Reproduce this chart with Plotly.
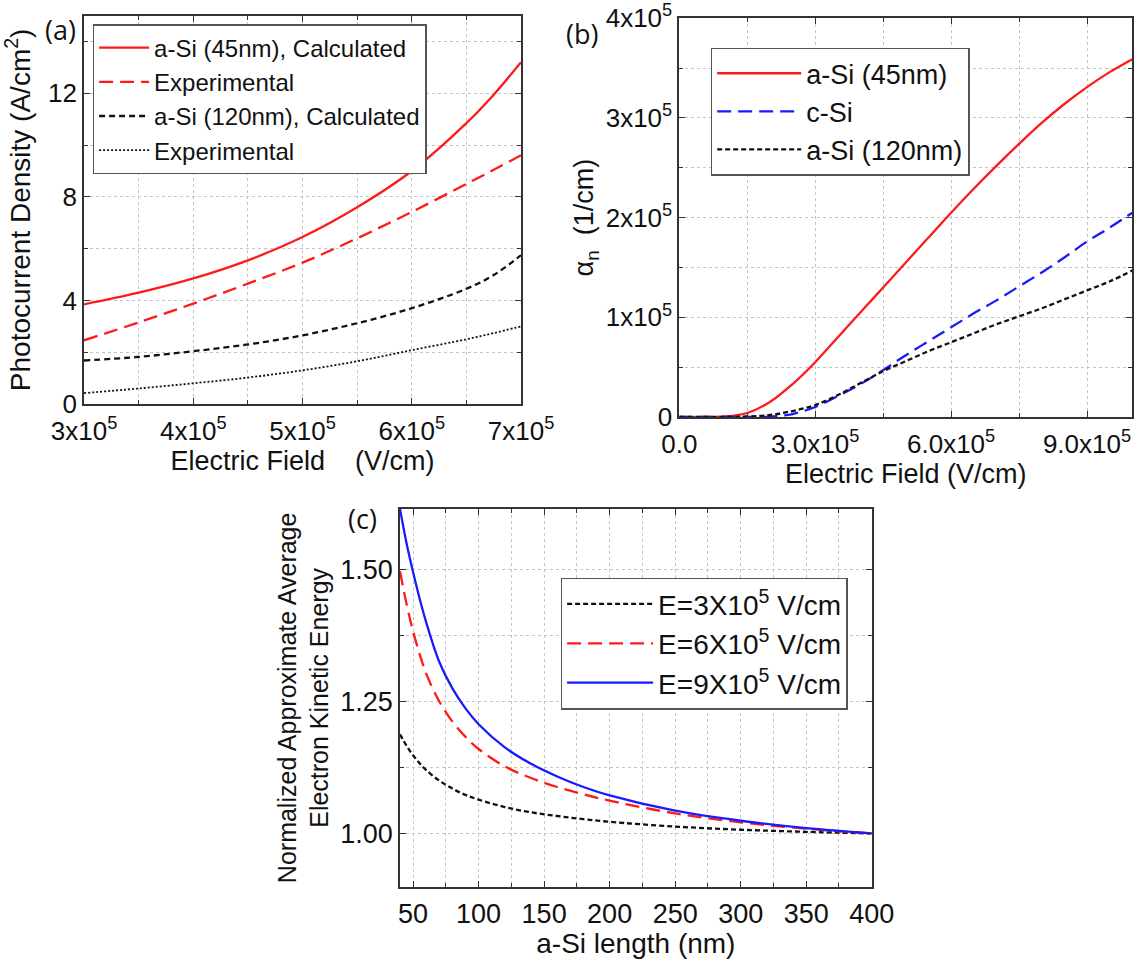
import plotly.graph_objects as go

W, H = 1139, 959

# ---------------- data (a) ----------------
a_field = [3.0e5, 3.5e5, 4.0e5, 4.5e5, 5.0e5, 5.5e5, 6.0e5, 6.5e5, 6.75e5, 7.0e5]
a_45_calc = [3.85, 4.30, 4.85, 5.55, 6.45, 7.60, 9.00, 10.85, 11.95, 13.20]
a_45_exp = [2.46, 3.15, 3.88, 4.65, 5.46, 6.40, 7.42, 8.50, 9.05, 9.61]
a_120_calc = [1.68, 1.82, 2.04, 2.30, 2.65, 3.12, 3.70, 4.45, 4.98, 5.75]
a_120_exp = [0.42, 0.60, 0.80, 1.02, 1.30, 1.65, 2.08, 2.50, 2.74, 3.00]
a_xticks = [3e5, 4e5, 5e5, 6e5, 7e5]
a_xticktext = ["3x10<sup>5</sup>", "4x10<sup>5</sup>", "5x10<sup>5</sup>", "6x10<sup>5</sup>", "7x10<sup>5</sup>"]
a_yticks = [0, 4, 8, 12]

# ---------------- data (b) ----------------
b_field = [0, 0.5e5, 1.0e5, 1.5e5, 2.0e5, 2.5e5, 3.0e5, 3.5e5, 4.0e5, 4.5e5, 5.0e5,
           5.5e5, 6.0e5, 6.5e5, 7.0e5, 7.5e5, 8.0e5, 8.5e5, 9.0e5, 9.5e5, 10.0e5]
b_asi45 = [0, 0, 0.005e5, 0.04e5, 0.15e5, 0.33e5, 0.55e5, 0.80e5, 1.05e5, 1.30e5, 1.55e5,
           1.80e5, 2.05e5, 2.29e5, 2.52e5, 2.74e5, 2.95e5, 3.14e5, 3.31e5, 3.46e5, 3.59e5]
b_csi = [0, 0, 0, 0, 0.003e5, 0.03e5, 0.10e5, 0.21e5, 0.33e5, 0.47e5, 0.62e5,
         0.76e5, 0.90e5, 1.04e5, 1.17e5, 1.31e5, 1.45e5, 1.60e5, 1.76e5, 1.90e5, 2.05e5]
b_asi120 = [0, 0, 0, 0.005e5, 0.02e5, 0.06e5, 0.12e5, 0.22e5, 0.34e5, 0.46e5, 0.56e5,
            0.66e5, 0.75e5, 0.84e5, 0.93e5, 1.01e5, 1.09e5, 1.18e5, 1.27e5, 1.36e5, 1.47e5]
b_xticks = [0, 3e5, 6e5, 9e5]
b_xticktext = ["0.0", "3.0x10<sup>5</sup>", "6.0x10<sup>5</sup>", "9.0x10<sup>5</sup>"]
b_yticks = [0, 1e5, 2e5, 3e5, 4e5]
b_yticktext = ["0", "1x10<sup>5</sup>", "2x10<sup>5</sup>", "3x10<sup>5</sup>", "4x10<sup>5</sup>"]

# ---------------- data (c) ----------------
c_len = [40, 45, 50, 55, 60, 70, 80, 90, 100, 120, 140, 160, 180, 200, 250, 300, 350, 400]
c_e3 = [1.188, 1.166, 1.148, 1.133, 1.120, 1.100, 1.085, 1.073, 1.064, 1.050, 1.040, 1.033,
        1.027, 1.022, 1.013, 1.007, 1.003, 1.000]
c_e6 = [1.497, 1.435, 1.383, 1.340, 1.303, 1.250, 1.212, 1.183, 1.160, 1.127, 1.105, 1.088,
        1.074, 1.062, 1.038, 1.021, 1.009, 1.000]
c_e9 = [1.615, 1.550, 1.495, 1.445, 1.400, 1.325, 1.275, 1.237, 1.207, 1.163, 1.132, 1.108,
        1.088, 1.072, 1.043, 1.024, 1.010, 1.000]
c_xticks = [50, 100, 150, 200, 250, 300, 350, 400]
c_yticks = [1.00, 1.25, 1.50]

RED = "#ff1a1a"
BLUE = "#1a1aff"
BLACK = "#111111"
FONT = "Liberation Sans, Arial, sans-serif"

fig = go.Figure()

# (a)
fig.add_trace(go.Scatter(x=a_field, y=a_45_calc, mode="lines", line=dict(color=RED, width=2.3, shape="spline"),
                         name="a-Si (45nm), Calculated", xaxis="x", yaxis="y", legend="legend", legendgroup="a1"))
fig.add_trace(go.Scatter(x=a_field, y=a_45_exp, mode="lines", line=dict(color=RED, width=2.3, dash="14px,7px", shape="spline"),
                         name="Experimental", xaxis="x", yaxis="y", legend="legend", legendgroup="a2"))
fig.add_trace(go.Scatter(x=a_field, y=a_120_calc, mode="lines", line=dict(color=BLACK, width=2.3, dash="6px,4px", shape="spline"),
                         name="a-Si (120nm), Calculated", xaxis="x", yaxis="y", legend="legend", legendgroup="a3"))
fig.add_trace(go.Scatter(x=a_field, y=a_120_exp, mode="lines", line=dict(color=BLACK, width=1.8, dash="2px,2px", shape="spline"),
                         name="Experimental", xaxis="x", yaxis="y", legend="legend", legendgroup="a4"))

# (b)
fig.add_trace(go.Scatter(x=b_field, y=b_asi45, mode="lines", line=dict(color=RED, width=2.3, shape="spline"),
                         name="a-Si (45nm)", xaxis="x2", yaxis="y2", legend="legend2", legendgroup="b1"))
fig.add_trace(go.Scatter(x=b_field, y=b_csi, mode="lines", line=dict(color=BLUE, width=2.3, dash="14px,7px", shape="spline"),
                         name="c-Si", xaxis="x2", yaxis="y2", legend="legend2", legendgroup="b2"))
fig.add_trace(go.Scatter(x=b_field, y=b_asi120, mode="lines", line=dict(color=BLACK, width=2.3, dash="5px,3px", shape="spline"),
                         name="a-Si (120nm)", xaxis="x2", yaxis="y2", legend="legend2", legendgroup="b3"))

# (c)
fig.add_trace(go.Scatter(x=c_len, y=c_e3, mode="lines", line=dict(color=BLACK, width=2.3, dash="5px,3px", shape="spline"),
                         name="E=3X10<sup>5</sup> V/cm", xaxis="x3", yaxis="y3", legend="legend3", legendgroup="c1"))
fig.add_trace(go.Scatter(x=c_len, y=c_e6, mode="lines", line=dict(color=RED, width=2.3, dash="14px,7px", shape="spline"),
                         name="E=6X10<sup>5</sup> V/cm", xaxis="x3", yaxis="y3", legend="legend3", legendgroup="c2"))
fig.add_trace(go.Scatter(x=c_len, y=c_e9, mode="lines", line=dict(color=BLUE, width=2.3, shape="spline"),
                         name="E=9X10<sup>5</sup> V/cm", xaxis="x3", yaxis="y3", legend="legend3", legendgroup="c3"))


def px_x(p):
    return p / W


def px_y(p):
    return 1 - p / H


def axis(tsize, **kw):
    d = dict(showline=True, linecolor="#333333", linewidth=1.8, mirror="ticks", ticks="inside",
             ticklen=6, tickwidth=1.3, tickcolor="#333333", showgrid=True, gridcolor="#c4c4c4",
             griddash="dot", gridwidth=1, zeroline=False, automargin=False,
             tickfont=dict(size=tsize, color="#111"))
    d.update(kw)
    return d


MINOR = dict(ticks="inside", ticklen=4, tickwidth=1.2, tickcolor="#333333", showgrid=True,
             gridcolor="#c4c4c4", griddash="dot", gridwidth=1)

fig.update_layout(
    width=W, height=H, margin=dict(l=0, r=0, t=0, b=0, autoexpand=False),
    paper_bgcolor="white", plot_bgcolor="white",
    font=dict(family=FONT, size=24, color="#111"),
    xaxis=axis(26, domain=[px_x(84), px_x(521)], range=[3e5, 7e5], anchor="y",
               tickmode="array", tickvals=a_xticks, ticktext=a_xticktext, ticklabelstandoff=3,
               minor=dict(MINOR, tickvals=[3.5e5, 4.5e5, 5.5e5, 6.5e5]),
               title=dict(text="Electric Field\u00a0\u00a0\u00a0\u00a0(V/cm)", standoff=6,
                          font=dict(size=27, color="#111"))),
    yaxis=axis(26, domain=[px_y(404), px_y(15.7)], range=[0, 15], anchor="x",
               tickmode="array", tickvals=a_yticks,
               minor=dict(MINOR, tickvals=[2, 6, 10, 14]),
               title=dict(text="Photocurrent Density (A/cm<sup>2</sup>)", standoff=10,
                          font=dict(size=28, color="#111"))),
    xaxis2=axis(26, domain=[px_x(679.3), px_x(1132.3)], range=[0, 1e6], anchor="y2",
                tickmode="array", tickvals=b_xticks, ticktext=b_xticktext, ticklabelstandoff=3,
                minor=dict(MINOR, tickvals=[1.5e5, 4.5e5, 7.5e5]),
                title=dict(text="Electric Field (V/cm)", standoff=6, font=dict(size=27, color="#111"))),
    yaxis2=axis(26, domain=[px_y(417), px_y(18.3)], range=[0, 4e5], anchor="x2",
                tickmode="array", tickvals=b_yticks, ticktext=b_yticktext,
                minor=dict(MINOR, tickvals=[0.5e5, 1.5e5, 2.5e5, 3.5e5]),
                title=dict(text="\u03b1<sub>n</sub>\u00a0\u00a0(1/cm)", standoff=4,
                           font=dict(size=27, color="#111"))),
    xaxis3=axis(27, domain=[px_x(400), px_x(871.7)], range=[40, 400], anchor="y3",
                tickmode="array", tickvals=c_xticks, ticklabelstandoff=2,
                minor=dict(MINOR, tickvals=[75, 125, 175, 225, 275, 325, 375]),
                title=dict(text="a-Si length (nm)", standoff=6, font=dict(size=28, color="#111"))),
    yaxis3=axis(27, domain=[px_y(886.7), px_y(509)], range=[0.899, 1.615], anchor="x3",
                tickmode="array", tickvals=c_yticks, tickformat=".2f",
                minor=dict(MINOR, tickvals=[1.125, 1.375]),
                title=dict(text="Normalized Approximate Average<br>Electron Kinetic Energy", standoff=4,
                           font=dict(size=25, color="#111"))),
    legend=dict(x=px_x(92.6), y=px_y(24), xanchor="left", yanchor="top", bgcolor="white",
                bordercolor="#555555", borderwidth=1.5, font=dict(size=24, color="#111"),
                itemwidth=50, traceorder="grouped", tracegroupgap=0),
    legend2=dict(x=px_x(710.7), y=px_y(47.7), xanchor="left", yanchor="top", bgcolor="white",
                 bordercolor="#555555", borderwidth=1.5, font=dict(size=27, color="#111"),
                 itemwidth=84, traceorder="grouped", tracegroupgap=0),
    legend3=dict(x=px_x(560.6), y=px_y(577.7), xanchor="left", yanchor="top", bgcolor="white",
                 bordercolor="#555555", borderwidth=1.5, font=dict(size=28, color="#111"),
                 itemwidth=86, traceorder="grouped", tracegroupgap=0),
    showlegend=True,
)

for txt, x, y in [("(a)", 60, 30), ("(b)", 582, 34), ("(c)", 362, 518)]:
    fig.add_annotation(text=txt, x=px_x(x), y=px_y(y), xref="paper", yref="paper",
                       showarrow=False, xanchor="center", yanchor="middle",
                       font=dict(family="Open Sans, sans-serif", size=27, color="#111"))

fig.write_html("out.html")
